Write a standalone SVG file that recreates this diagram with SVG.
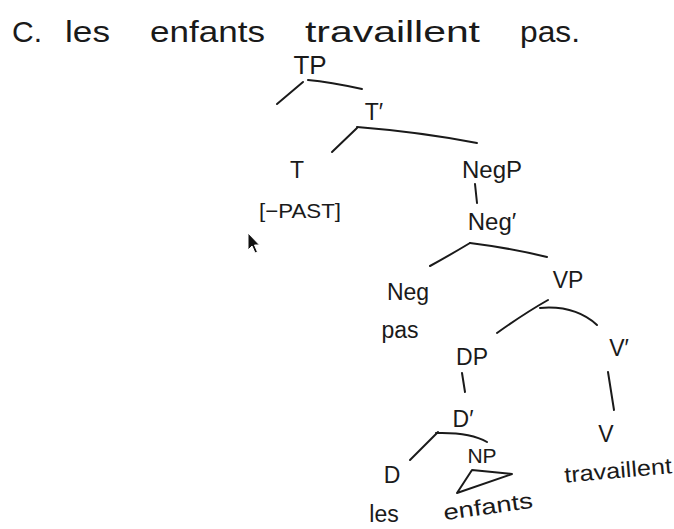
<svg xmlns="http://www.w3.org/2000/svg" width="674" height="529" viewBox="0 0 674 529">
<style>
.t{font-family:"Liberation Sans","DejaVu Sans",sans-serif;fill:#1a1a1a;}
.title{font-size:30px;}
.n{font-size:23px;text-anchor:middle;}
.w{font-size:22px;text-anchor:middle;}
.e{fill:none;stroke:#1a1a1a;stroke-width:2;stroke-linecap:round;stroke-linejoin:round;}
</style>
<rect width="674" height="529" fill="#ffffff"/>
<g id="title" class="t title">
<text x="12" y="42" textLength="30" lengthAdjust="spacingAndGlyphs">C.</text>
<text x="65" y="42" textLength="45" lengthAdjust="spacingAndGlyphs">les</text>
<text x="150" y="42" textLength="115" lengthAdjust="spacingAndGlyphs">enfants</text>
<text x="305" y="42" textLength="175" lengthAdjust="spacingAndGlyphs">travaillent</text>
<text x="520" y="42" textLength="60" lengthAdjust="spacingAndGlyphs">pas.</text>
</g>
<g id="connectors" class="e">
<path d="M303,82 L277,104"/>
<path d="M308,80 Q330,82 362,89"/>
<path d="M332,152 L357,128"/>
<path d="M357,127 Q420,132 477,143"/>
<path d="M475,184 L477,203"/>
<path d="M430,266 Q450,255 470,243"/>
<path d="M470,243 Q510,248 547,257"/>
<path d="M497,333 Q525,313 548,300"/>
<path d="M540,308 Q575,305 597,325"/>
<path d="M462,373 L465,392"/>
<path d="M608,372 L614,410"/>
<path d="M410,460 L438,432"/>
<path d="M436,433 Q470,432 487,442"/>
</g>
<g id="TP" class="t n"><text x="310" y="74" font-size="26">TP</text></g>
<g id="Tbar" class="t n"><text x="374" y="120">T′</text></g>
<g id="T" class="t n"><text x="297" y="178">T</text>
<text x="300" y="218" font-size="21" textLength="82" lengthAdjust="spacingAndGlyphs">[−PAST]</text></g>
<g id="NegP" class="t n"><text x="492" y="178" font-size="24">NegP</text></g>
<g id="Negbar" class="t n"><text x="492" y="230" font-size="24">Neg′</text></g>
<g id="Neg" class="t n"><text x="408" y="300">Neg</text>
<text x="400" y="338">pas</text></g>
<g id="VP" class="t n"><text x="568" y="288">VP</text></g>
<g id="DP" class="t n"><text x="472" y="365">DP</text></g>
<g id="Vbar" class="t n"><text x="619" y="356">V′</text></g>
<g id="Dbar" class="t n"><text x="463" y="427">D′</text></g>
<g id="V" class="t n"><text x="606" y="442">V</text>
<text x="618" y="478" class="w" textLength="108" lengthAdjust="spacingAndGlyphs" transform="rotate(-5 618 470)">travaillent</text></g>
<g id="D" class="t n"><text x="392" y="483">D</text>
<text x="384" y="522">les</text></g>
<g id="NP" class="t n"><text x="482" y="463" font-size="21">NP</text>
<path class="e" d="M472,470 L457,493 L512,474 Z"/>
<text x="488" y="514" class="w" textLength="90" lengthAdjust="spacingAndGlyphs" transform="rotate(-8 488 507)">enfants</text></g>
<g id="cursor">
<path d="M248,233 L248,250 L252,246 L255,253 L257.5,252 L254.5,245 L259.5,245 Z" fill="#111" stroke="#fff" stroke-width="1"/>
</g>
</svg>
